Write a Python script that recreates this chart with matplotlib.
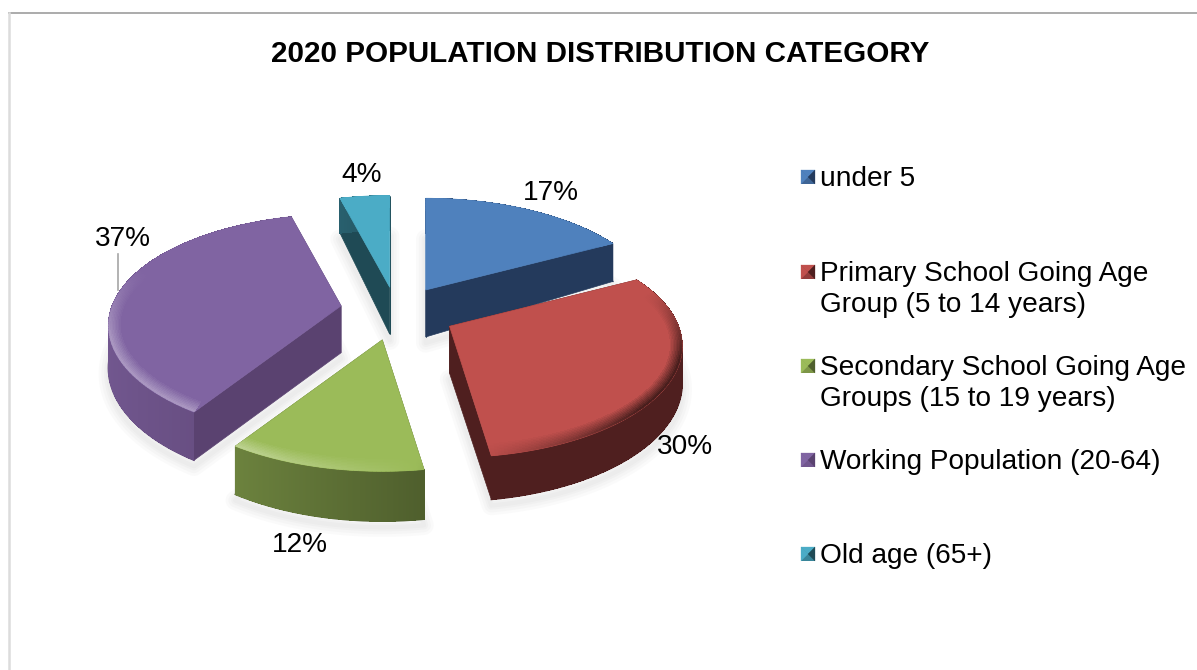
import numpy as np
import matplotlib
matplotlib.use('Agg')
import matplotlib.pyplot as plt
from matplotlib.collections import PolyCollection
from matplotlib.colors import to_rgb
from matplotlib.patches import Polygon

plt.rcParams['font.family'] = ['Liberation Sans', 'DejaVu Sans']

# data
title = '2020 POPULATION DISTRIBUTION CATEGORY'
categories = ['under 5', 'Primary School Going Age\nGroup (5 to 14 years)',
              'Secondary School Going Age\nGroups (15 to 19 years)',
              'Working Population (20-64)', 'Old age (65+)']
values = [17.3, 30.3, 11.6, 36.7, 4.1]

# styles
top_colors = ['#4f81bd', '#c0504d', '#9bbb59', '#8064a2', '#4bacc6']
wall_colors = ['#243a5c', '#4f1f1f', '#4f5f2d', '#5a4270', '#1f4a55']
draw_order = [4, 0, 3, 1, 2]

# layout, in pixels of the 1197x670 image
cx, cy = 396, 310
rx, ry = 229, 108
persp = 0.178
explode = 0.25
nudge = [(4, 0), (-2, 3), (1, -2), (0, 0), (0, 0)]
depth_rim = [41, 36, 41, 41, 41]
depth_apex = 47
bevel = 12
label_xy = [(551, 193), (685, 447), (300, 545), (123, 239), (362, 175)]
legend_y = [177, 272, 366, 460, 554]
legend_text_x = 820
legend_box_x = 801
legend_box = 14


def proj(theta):
    # clockwise angle from the top of the pie, with a little perspective
    xx = np.sin(theta)
    yy = np.cos(theta)
    s = 1 / (1 + persp * yy)
    return rx * xx * s, -ry * yy * s, s


def blend(c1, c2, t):
    c1, c2 = np.array(to_rgb(c1)), np.array(to_rgb(c2))
    return tuple(c1 + (c2 - c1) * t)


fig = plt.figure(figsize=(11.97, 6.7), dpi=100)
ax = fig.add_axes([0, 0, 1, 1])
ax.set_xlim(0, 1197)
ax.set_ylim(670, 0)
ax.axis('off')

# frame
ax.plot([8.5, 1197], [13, 13], color='#ababab', lw=1.4)
ax.plot([9, 9], [13, 670], color='#dcdcdc', lw=1.8)

ax.text(600, 54, title, fontsize=21.3, fontweight='bold', ha='center', va='center')

edges = np.cumsum([0] + values) / sum(values) * 2 * np.pi

for i in draw_order:
    a1, a2 = edges[i], edges[i + 1]
    mid = (a1 + a2) / 2
    mx, my, _ = proj(mid)
    ax0 = cx + explode * mx + nudge[i][0]
    ay0 = cy + explode * my + nudge[i][1]

    th = np.linspace(a1, a2, 160)
    x, y, s = proj(th)
    x = ax0 + x
    y = ay0 + y
    d = depth_rim[i] * s

    # soft shadow under the slice
    sx = np.r_[ax0, x]
    sy = np.r_[ay0 + depth_apex + 6, y + d + 6]
    for w in [14, 10, 6, 3]:
        ax.add_patch(Polygon(np.c_[sx, sy], closed=True, fc='none', ec='#808080',
                             lw=w, alpha=0.035, joinstyle='round', zorder=1))

    # straight side walls
    for j in [0, -1]:
        ax.add_patch(Polygon([(ax0, ay0), (x[j], y[j]), (x[j], y[j] + d[j]),
                              (ax0, ay0 + depth_apex)], closed=True,
                             fc=wall_colors[i], ec=wall_colors[i], lw=0.5, zorder=2))

    # outer wall, a bit lighter towards the left
    ax.plot(x, y + d, color=wall_colors[i], lw=1, zorder=2)
    quads, cols = [], []
    for k in range(len(th) - 1):
        quads.append([(x[k], y[k]), (x[k + 1], y[k + 1]),
                      (x[k + 1], y[k + 1] + d[k + 1]), (x[k], y[k] + d[k])])
        cols.append(blend(wall_colors[i], top_colors[i], max(0, -np.sin(th[k]) * 0.55 + 0.08)))
    ax.add_collection(PolyCollection(quads, facecolors=cols, edgecolors='none',
                                     antialiaseds=False, zorder=2))

    # top face
    top = Polygon(np.c_[np.r_[ax0, x], np.r_[ay0, y]], closed=True,
                  fc=top_colors[i], ec=top_colors[i], lw=0.5, zorder=2)
    ax.add_patch(top)

    # bevel along the front rim, same thickness all the way round
    steps = np.linspace(1, 0, 9)
    quads, cols = [], []
    for n in range(len(steps) - 1):
        o1 = bevel * steps[n]
        o2 = bevel * steps[n + 1]
        t = (n + 1) / (len(steps) - 1)
        for k in range(len(th) - 1):
            front = np.clip(-np.cos(th[k]) * 1.6 + 0.55, 0, 1)
            light = -np.sin(th[k]) + 0.12
            if light > 0:
                c = blend(top_colors[i], '#ffffff', 0.32 * min(1, light * 1.6) * t * front)
            else:
                c = blend(top_colors[i], '#000000', 0.62 * min(1, -light * 1.6) * t * front)
            sa, ca = np.sin(th[k]), np.cos(th[k])
            sb, cb = np.sin(th[k + 1]), np.cos(th[k + 1])
            quads.append([(x[k] - sa * o1, y[k] + ca * o1), (x[k + 1] - sb * o1, y[k + 1] + cb * o1),
                          (x[k + 1] - sb * o2, y[k + 1] + cb * o2), (x[k] - sa * o2, y[k] + ca * o2)])
            cols.append(c)
    rim = PolyCollection(quads, facecolors=cols, edgecolors='none', antialiaseds=False, zorder=2)
    ax.add_collection(rim)
    rim.set_clip_path(top)

# data labels
for v, (lx, ly) in zip(values, label_xy):
    ax.text(lx, ly, '%d%%' % round(v), fontsize=20.2, ha='center', va='center', zorder=5)
ax.plot([118, 118], [254, 290], color='#a6a6a6', lw=1.2, zorder=4)

# legend
for cat, c, wc, ly in zip(categories, top_colors, wall_colors, legend_y):
    x0, x1 = legend_box_x, legend_box_x + legend_box
    y0, y1 = ly - legend_box / 2, ly + legend_box / 2
    xm, ym = (x0 + x1) / 2, (y0 + y1) / 2
    mid_c = blend(c, wc, 0.4)
    ax.add_patch(Polygon([(x0, y0), (x1, y0), (x1, y1), (x0, y1)], fc=mid_c, ec='none'))
    ax.add_patch(Polygon([(x0, y0), (x1, y0), (xm, ym)], fc=c, ec=c, lw=0.2))
    ax.add_patch(Polygon([(x0, y0), (x0, y1), (xm, ym)], fc=c, ec=c, lw=0.2))
    ax.add_patch(Polygon([(x1, y0), (x1, y1), (xm, ym)], fc=wc, ec=wc, lw=0.2))
    lines = cat.split('\n')
    for n, line in enumerate(lines):
        ax.text(legend_text_x, ly + 2 + n * 31.5, line, fontsize=20.2, ha='left', va='center')

fig.savefig('out.png', dpi=100)
